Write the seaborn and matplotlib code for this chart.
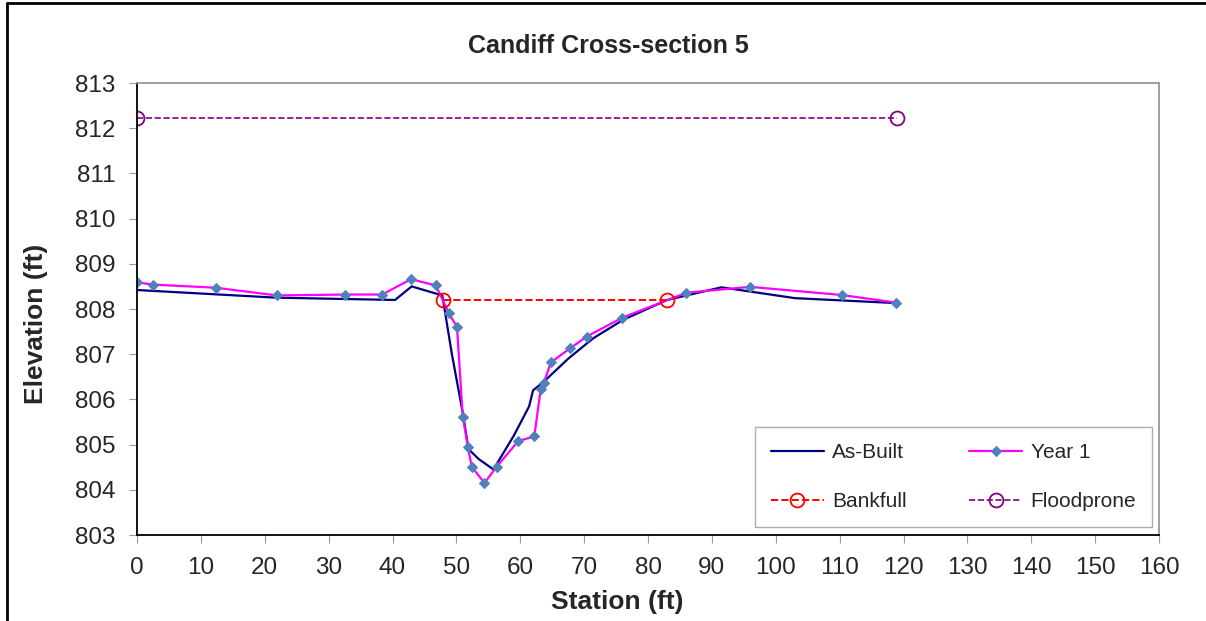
import numpy as np
import pandas as pd
import seaborn as sns
import matplotlib.pyplot as plt
from matplotlib.lines import Line2D

# data
asbuilt_x = [0, 21.9, 40.4, 43.0, 47.8, 49.3, 51.0, 51.9, 53.5, 55.8, 59.0, 61.4, 62.0, 63.6,
             67.5, 71.4, 76.1, 83.0, 91.5, 103.0, 119.0]
asbuilt_y = [808.42, 808.25, 808.2, 808.5, 808.3, 807.0, 805.7, 804.9, 804.68, 804.45, 805.2,
             805.85, 806.2, 806.38, 806.9, 807.35, 807.76, 808.2, 808.48, 808.24, 808.13]

year1_x = [0, 2.5, 12.4, 21.9, 32.5, 38.4, 42.9, 46.8, 48.8, 50.1, 51.0, 51.8, 52.4, 54.4,
           56.3, 59.7, 62.2, 63.2, 63.7, 64.8, 67.8, 70.4, 76.0, 86.0, 96.0, 110.3, 118.9]
year1_y = [808.59, 808.54, 808.47, 808.3, 808.32, 808.32, 808.66, 808.52, 807.91, 807.6,
           805.62, 804.95, 804.51, 804.15, 804.51, 805.08, 805.18, 806.23, 806.37, 806.82,
           807.13, 807.39, 807.81, 808.36, 808.49, 808.31, 808.14]

bankfull_x = [47.9, 82.9]
bankfull_y = [808.2, 808.2]

flood_x = [0, 119]
flood_y = [812.23, 812.23]

sns.set_style('white')
plt.rcParams['font.family'] = ['Liberation Sans', 'DejaVu Sans']

fig = plt.figure(figsize=(12.06, 6.21), dpi=100)
ax = fig.add_axes([137/1206, 1 - 535/621, (1159 - 137)/1206, (535 - 83)/621])

sns.lineplot(x=asbuilt_x, y=asbuilt_y, ax=ax, color='#000080', lw=1.6, sort=False,
             label='As-Built')
sns.lineplot(x=year1_x, y=year1_y, ax=ax, color='#FF00FF', lw=1.6, sort=False,
             marker='D', markersize=5.5, markerfacecolor='#4F81BD', markeredgecolor='#4F81BD',
             label='Year 1')
sns.lineplot(x=bankfull_x, y=bankfull_y, ax=ax, color='#FF0000', lw=1.4, linestyle='--',
             marker='o', markersize=10, markerfacecolor='none', markeredgecolor='#FF0000',
             markeredgewidth=1.3, label='Bankfull')
sns.lineplot(x=flood_x, y=flood_y, ax=ax, color='#800080', lw=1.2, linestyle='--',
             marker='o', markersize=10, markerfacecolor='none', markeredgecolor='#800080',
             markeredgewidth=1.3, label='Floodprone')

ax.set_xlim(0, 160)
ax.set_ylim(803, 813)
ax.set_xticks(np.arange(0, 161, 10))
ax.set_yticks(np.arange(803, 814, 1))
ax.tick_params(axis='both', direction='out', length=5.5, color='#999999', labelsize=17.5,
               pad=10, left=True, bottom=True)

for side in ['left', 'bottom']:
    ax.spines[side].set_color('black')
    ax.spines[side].set_linewidth(1.3)
for side in ['top', 'right']:
    ax.spines[side].set_color('#999999')
    ax.spines[side].set_linewidth(1.3)

ax.set_xlabel('Station (ft)', fontsize=19, fontweight='bold')
ax.set_ylabel('Elevation (ft)', fontsize=19, fontweight='bold')
ax.xaxis.set_label_coords(0.470, -0.122)
ax.yaxis.set_label_coords(-0.087, 0.467)
fig.text(0.5046, 0.9267, 'Candiff Cross-section 5', fontsize=18, fontweight='bold',
         ha='center', va='center')

# legend rows: As-Built / Year 1, then Bankfull / Floodprone
h, l = ax.get_legend_handles_labels()
order = [0, 2, 1, 3]
leg = ax.legend([h[i] for i in order], [l[i] for i in order], loc='lower right', ncol=2,
                fontsize=15, frameon=True, fancybox=False, edgecolor='#999999',
                handlelength=2.55, handletextpad=0.4, columnspacing=3.0,
                labelspacing=1.45, borderpad=0.75, borderaxespad=0,
                bbox_to_anchor=(0.993, 0.018))
leg.get_frame().set_linewidth(1.0)

# outer chart border (left and top edges visible)
fig.add_artist(Line2D([7/1206, 7/1206], [0, 1 - 3/621], color='black', lw=2,
                      transform=fig.transFigure))
fig.add_artist(Line2D([7/1206, 1], [1 - 3/621, 1 - 3/621], color='black', lw=2,
                      transform=fig.transFigure))

fig.savefig('out.png', dpi=100)
